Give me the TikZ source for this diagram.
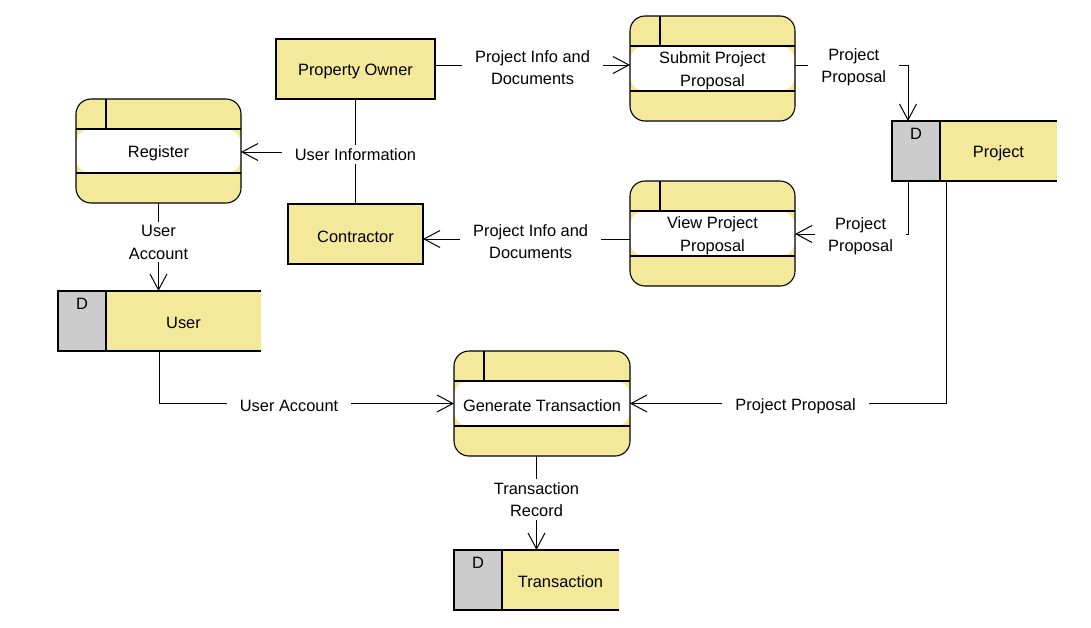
\documentclass[tikz,border=0pt]{standalone}
\usepackage{fontspec}
\setmainfont{Liberation Sans}
\usetikzlibrary{arrows.meta,calc}
\definecolor{dfdyellow}{RGB}{244,233,155}
\definecolor{dfdgray}{RGB}{204,204,204}
\newcommand\dfdfont{\fontsize{16.4}{22.5}\selectfont}
\newcommand\mkstore[4]{%
  \node[store, minimum width=#3] (#1) at (#2) {};
  \fill[dfdgray] (#1.north west) rectangle ([xshift=48pt]#1.south west);
  \draw[storeline] (#1.north east) -- (#1.north west) -- (#1.south west) -- (#1.south east);
  \draw[storeline] ([xshift=48pt]#1.north west) -- ([xshift=48pt]#1.south west);
  \node[txt] (#1name) at ([xshift=24pt,yshift=-2pt]#1.center) {#4};
  \node[txt] (#1d) at ([xshift=24pt,yshift=-13pt]#1.north west) {D};
}
\begin{document}
\begin{tikzpicture}[x=1pt,y=-1pt,
  proc/.style={rectangle, rounded corners=15pt, draw=black, line width=1.1pt,
    fill=dfdyellow, inner sep=0pt, outer sep=0pt,
    path picture={
      \fill[white] ([yshift=-30pt]path picture bounding box.north west) rectangle ([yshift=30pt]path picture bounding box.south east);
      \draw[line width=1.1pt] ([yshift=-30pt]path picture bounding box.north west) -- ([yshift=-30pt]path picture bounding box.north east);
      \draw[line width=1.1pt] ([yshift=30pt]path picture bounding box.south west) -- ([yshift=30pt]path picture bounding box.south east);
      \draw[line width=1.1pt] ([xshift=30pt]path picture bounding box.north west) -- ([xshift=30pt,yshift=-30pt]path picture bounding box.north west);
    }},
  entity/.style={rectangle, draw=black, line width=1.1pt, fill=dfdyellow,
    inner sep=0pt, outer sep=0pt},
  store/.style={rectangle, fill=dfdyellow, inner sep=0pt, outer sep=0pt,
    minimum height=60pt},
  storeline/.style={line width=1.1pt, draw=black},
  txt/.style={font=\dfdfont, inner sep=0pt, align=center},
  lbl/.style={fill=white, font=\dfdfont, align=center, inner xsep=13pt, inner ysep=3pt, yshift=-2.5pt},
  flow/.style={line width=1pt, -{Straight Barb[length=16pt,width=17pt,line width=1pt]}},
  plainflow/.style={line width=1pt}
]
\useasboundingbox (0,0) rectangle (1091,627);
\fill[white] (0,0) rectangle (1091,627);

% processes
\node[proc, minimum width=165pt, minimum height=104pt] (reg) at (158.5,151) {};
\node[txt] (regtext) at ([yshift=-2.5pt]reg.center) {Register};
\node[proc, minimum width=165pt, minimum height=105pt] (sub) at (712.5,68.5) {};
\node[txt] (subtext) at ([yshift=-2.5pt]sub.center) {Submit Project\\Proposal};
\node[proc, minimum width=165pt, minimum height=105pt] (view) at (712.5,233.5) {};
\node[txt] (viewtext) at ([yshift=-2.5pt]view.center) {View Project\\Proposal};
\node[proc, minimum width=176pt, minimum height=105pt] (gen) at (542,403.5) {};
\node[txt] (gentext) at ([yshift=-2.5pt]gen.center) {Generate Transaction};

% entities
\node[entity, minimum width=159pt, minimum height=60pt] (po) at (355.5,69) {};
\node[txt] (potext) at ([yshift=-2.5pt]po.center) {Property Owner};
\node[entity, minimum width=135pt, minimum height=60pt] (con) at (355.5,234) {};
\node[txt] (context) at ([yshift=-2.5pt]con.center) {Contractor};

% data stores
\mkstore{project}{974.5,151}{165pt}{Project}
\mkstore{user}{159.5,321}{203pt}{User}
\mkstore{trans}{536.5,580}{165pt}{Transaction}

% flows
\draw[flow] ([yshift=4pt]po.east) -- node[lbl]{Project Info and\\Documents} ([yshift=3.5pt]sub.west);
\draw[flow] ([yshift=3.5pt]sub.east) -| node[lbl,pos=0.26]{Project\\Proposal} ([xshift=16pt]project.north west);
\draw[flow] ([xshift=16pt]project.south west) |- node[lbl,pos=0.71]{Project\\Proposal} ([yshift=-0.5pt]view.east);
\draw[flow] ([yshift=-5.5pt]view.west) -- node[lbl,pos=0.48]{Project Info and\\Documents} ([yshift=-5pt]con.east);
\draw[plainflow] (po.south) -- (con.north);
\coordinate (ui) at ([yshift=-1pt]po.south |- reg.east);
\draw[flow] (ui) -- (ui -| reg.east);
\node[lbl] (uilbl) at (ui) {User Information};
\draw[flow] (reg.south) -- node[lbl,pos=0.42]{User\\Account} (reg.south |- user.north);
\draw[flow] (user.south) |- node[lbl,pos=0.72]{User Account} (gen.west);
\draw[flow] ([xshift=54pt]project.south west) |- node[lbl,pos=0.738]{Project Proposal} (gen.east);
\draw[flow] (trans.north |- gen.south) -- node[lbl,pos=0.436]{Transaction\\Record} (trans.north);
\end{tikzpicture}
\end{document}
